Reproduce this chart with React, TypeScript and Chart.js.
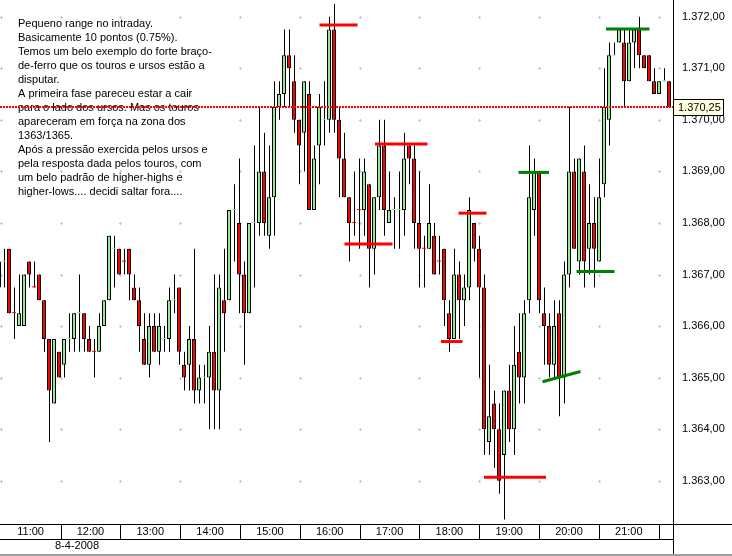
import React, { useEffect, useRef } from "react";
import { Chart, registerables } from "chart.js";

Chart.register(...registerables);

const FONT = "'Liberation Sans', Arial, Helvetica, sans-serif";

// first candle is 10:55 (index -1), then 5-minute candles from 11:00
const firstCandle = -1;

const openPrices = [
  1366.75,
  1367.25, 1367.5, 1366.25, 1366.0, 1366.0, 1367.25, 1366.75, 1367.0, 1366.5, 1365.75, 1364.5, 1365.5,
  1365.25, 1365.75, 1365.75, 1366.25, 1366.25, 1365.75, 1365.5, 1365.5, 1366.0, 1366.5, 1367.5, 1367.5,
  1367.25, 1367.5, 1366.75, 1366.5, 1365.75, 1365.25, 1366.0, 1365.5, 1365.75, 1365.75, 1366.5, 1366.75,
  1365.25, 1365.25, 1365.75, 1364.75, 1365.0, 1365.0, 1365.5, 1364.75, 1366.5, 1366.5, 1368.25, 1368.0,
  1367.0, 1366.25, 1368.0, 1368.0, 1369.0, 1367.75, 1368.5, 1370.25, 1370.5, 1371.25, 1370.75, 1370.0,
  1369.75, 1370.5, 1368.25, 1369.5, 1370.0, 1370.0, 1371.75, 1370.0, 1369.25, 1368.5, 1368.0, 1368.25,
  1368.25, 1368.75, 1367.5, 1368.5, 1369.5, 1368.0, 1368.25, 1368.25, 1368.25, 1369.5, 1369.25, 1368.0,
  1367.5, 1367.5, 1367.75, 1367.25, 1367.5, 1366.25, 1365.75, 1367.0, 1366.5, 1366.75, 1368.0, 1367.5,
  1366.75, 1363.75, 1364.5, 1364.0, 1363.5, 1364.75, 1364.0, 1365.5, 1365.0, 1366.5, 1368.25, 1369.0,
  1366.25, 1366.0, 1365.25, 1366.25, 1365.0, 1367.0, 1369.0, 1367.25, 1369.0, 1367.5, 1368.0, 1367.25,
  1368.75, 1370.0, 1371.25, 1371.5, 1371.5, 1370.75, 1371.5, 1371.75, 1371.25, 1371.25, 1370.75, 1370.5,
  1370.75, 1370.75,
];

const highPrices = [
  1367.5,
  1367.5, 1367.5, 1366.75, 1367.0, 1367.0, 1367.25, 1367.25, 1367.0, 1366.5, 1365.75, 1365.75, 1365.5,
  1365.75, 1366.25, 1366.25, 1367.0, 1366.25, 1366.0, 1365.75, 1366.25, 1366.5, 1367.75, 1367.75, 1367.5,
  1367.5, 1367.5, 1367.0, 1366.75, 1366.25, 1366.25, 1366.25, 1366.25, 1366.0, 1366.75, 1367.0, 1366.75,
  1365.5, 1366.0, 1367.5, 1365.25, 1365.25, 1366.0, 1367.0, 1367.0, 1367.5, 1368.25, 1368.75, 1369.25,
  1367.25, 1368.0, 1369.5, 1370.25, 1369.75, 1369.5, 1370.75, 1370.75, 1371.75, 1371.75, 1371.25, 1370.0,
  1370.75, 1370.75, 1369.5, 1370.5, 1370.75, 1372.0, 1372.25, 1370.25, 1369.75, 1368.5, 1369.0, 1369.25,
  1369.25, 1368.75, 1368.5, 1370.0, 1370.0, 1369.0, 1368.5, 1369.0, 1369.75, 1369.5, 1369.5, 1369.0,
  1367.75, 1368.75, 1368.0, 1367.75, 1367.5, 1366.5, 1367.5, 1367.25, 1367.0, 1368.5, 1368.0, 1367.75,
  1367.0, 1365.25, 1364.75, 1364.5, 1364.75, 1365.25, 1366.0, 1366.25, 1366.5, 1369.5, 1369.25, 1369.0,
  1366.75, 1366.25, 1366.5, 1366.5, 1367.25, 1370.25, 1369.25, 1369.25, 1369.5, 1368.75, 1368.5, 1369.25,
  1371.0, 1371.5, 1371.5, 1371.75, 1371.75, 1371.75, 1371.75, 1372.0, 1371.25, 1371.25, 1371.0, 1370.75,
  1371.0, 1370.75,
];

const lowPrices = [
  1366.5,
  1366.75, 1366.25, 1365.75, 1366.0, 1366.0, 1366.75, 1366.75, 1366.5, 1365.5, 1363.75, 1364.5, 1365.0,
  1365.0, 1365.5, 1365.5, 1365.5, 1365.5, 1365.5, 1365.0, 1365.5, 1366.0, 1366.5, 1366.75, 1367.0,
  1367.0, 1366.5, 1366.5, 1365.5, 1365.25, 1365.0, 1365.5, 1365.25, 1365.5, 1365.5, 1366.25, 1365.25,
  1364.75, 1364.75, 1364.5, 1364.5, 1364.5, 1364.0, 1364.0, 1364.0, 1365.5, 1366.5, 1367.25, 1366.25,
  1365.25, 1366.25, 1366.75, 1367.75, 1367.75, 1367.5, 1367.75, 1370.0, 1370.25, 1370.25, 1369.75, 1368.75,
  1369.0, 1368.25, 1368.25, 1368.75, 1369.5, 1369.75, 1369.75, 1368.5, 1368.5, 1367.25, 1367.75, 1367.5,
  1367.75, 1366.75, 1367.0, 1368.25, 1367.75, 1368.0, 1367.5, 1367.5, 1367.75, 1368.75, 1367.5, 1366.75,
  1366.75, 1367.5, 1367.0, 1367.0, 1366.0, 1365.5, 1365.75, 1365.75, 1366.0, 1366.5, 1367.25, 1365.0,
  1363.5, 1363.5, 1363.25, 1362.75, 1362.25, 1363.75, 1363.5, 1364.5, 1364.5, 1366.25, 1367.75, 1366.25,
  1365.25, 1365.0, 1365.0, 1364.25, 1364.5, 1366.75, 1367.5, 1367.0, 1366.75, 1367.0, 1366.75, 1367.25,
  1368.5, 1369.5, 1371.25, 1371.5, 1370.25, 1370.75, 1371.0, 1371.0, 1371.0, 1370.75, 1370.5, 1370.5,
  1370.75, 1370.25,
];

const closePrices = [
  1367.25,
  1367.25, 1366.25, 1366.25, 1366.25, 1367.0, 1367.0, 1366.75, 1366.5, 1365.75, 1364.75, 1365.75, 1365.0,
  1365.75, 1365.75, 1366.25, 1366.25, 1365.75, 1365.5, 1365.5, 1366.0, 1366.5, 1367.75, 1367.5, 1367.0,
  1367.25, 1367.0, 1366.5, 1366.0, 1365.25, 1366.0, 1365.5, 1366.0, 1365.75, 1366.5, 1366.5, 1365.5,
  1365.0, 1365.75, 1364.75, 1365.0, 1365.0, 1365.5, 1364.75, 1366.75, 1366.25, 1368.25, 1368.25, 1367.0,
  1366.25, 1368.0, 1368.0, 1369.0, 1368.0, 1368.5, 1370.25, 1370.5, 1371.25, 1371.0, 1370.0, 1369.5,
  1370.75, 1368.25, 1369.25, 1370.25, 1370.0, 1371.75, 1370.0, 1369.25, 1368.5, 1368.0, 1368.0, 1368.25,
  1369.0, 1367.5, 1368.5, 1369.5, 1368.25, 1368.25, 1368.25, 1368.25, 1369.25, 1369.25, 1368.0, 1367.5,
  1367.5, 1368.0, 1367.0, 1367.25, 1366.5, 1365.75, 1367.0, 1366.5, 1366.75, 1368.25, 1367.5, 1366.75,
  1364.0, 1364.25, 1364.0, 1363.0, 1364.75, 1364.0, 1365.25, 1365.0, 1366.25, 1368.5, 1369.0, 1366.5,
  1366.0, 1365.25, 1366.0, 1365.0, 1367.0, 1369.0, 1367.5, 1369.25, 1367.25, 1368.0, 1367.5, 1368.5,
  1370.25, 1371.25, 1371.25, 1371.75, 1370.75, 1371.5, 1371.75, 1371.25, 1371.0, 1370.75, 1370.5, 1370.75,
  1370.75, 1370.25,
];

const hourLabels = ["11:00", "12:00", "13:00", "14:00", "15:00", "16:00", "17:00", "18:00", "19:00", "20:00", "21:00"];
const dateLabel = "8-4-2008";
const priceTicks = [1363, 1364, 1365, 1366, 1367, 1368, 1369, 1370, 1371, 1372];
const lastPrice = 1370.25;

const noteLines = [
  "Pequeno range no intraday.",
  "Basicamente 10 pontos (0.75%).",
  "Temos um belo exemplo do forte braço-",
  "de-ferro que os touros e ursos estão a",
  "disputar.",
  "A primeira fase pareceu estar a cair",
  "para o lado dos ursos. Mas os touros",
  "apareceram em força na zona dos",
  "1363/1365.",
  "Após a pressão exercida pelos ursos e",
  "pela resposta dada pelos touros, com",
  "um belo padrão de higher-highs e",
  "higher-lows.... decidi saltar fora....",
];

// [fromCandle, toCandle, fromPrice, toPrice]
const redMarks: number[][] = [
  [63.1, 70.7, 1371.84, 1371.84],
  [74.2, 84.7, 1369.53, 1369.53],
  [68.1, 77.7, 1367.59, 1367.59],
  [90.9, 96.5, 1368.19, 1368.19],
  [87.4, 91.7, 1365.7, 1365.7],
  [96.0, 108.4, 1363.07, 1363.07],
];
const greenMarks: number[][] = [
  [102.9, 109.0, 1368.98, 1368.98],
  [120.4, 129.1, 1371.76, 1371.76],
  [114.5, 122.1, 1367.06, 1367.06],
  [107.7, 115.3, 1364.92, 1365.12],
];

const UP = "#90ee90";
const DOWN = "#ff0000";

function fmtPrice(v: number): string {
  const [i, d] = v.toFixed(2).split(".");
  return i.replace(/\B(?=(\d{3})+(?!\d))/g, ".") + "," + d;
}

const candleColors: string[] = [];
closePrices.forEach((c, i) => {
  const o = openPrices[i];
  if (c > o) candleColors.push(UP);
  else if (c < o) candleColors.push(DOWN);
  else candleColors.push(i > 0 ? candleColors[i - 1] : UP);
});

const X_MIN = -0.8;
const X_MAX = 133.8;
const hourBoundary = (i: number) => -0.66 + 11.964 * i;

const decorPlugin = {
  id: "decor",
  beforeDatasetsDraw(chart: any) {
    const { ctx, chartArea } = chart;
    const x = chart.scales.x;
    const y = chart.scales.y;
    ctx.save();
    ctx.fillStyle = "#c8c8c8";
    for (let i = 0; i <= hourLabels.length; i++) {
      const px = Math.round(x.getPixelForValue(hourBoundary(i)));
      for (const t of priceTicks) {
        const py = Math.round(y.getPixelForValue(t));
        ctx.fillRect(px - 1, py, 3, 1);
        ctx.fillRect(px, py - 1, 1, 3);
      }
    }
    ctx.fillStyle = "#000";
    ctx.font = `11px ${FONT}`;
    ctx.textBaseline = "middle";
    ctx.textAlign = "left";
    noteLines.forEach((line, i) => {
      ctx.fillText(line, chartArea.left + 18, chartArea.top + 24 + i * 14);
    });
    ctx.restore();
  },
  afterDraw(chart: any) {
    const { ctx, chartArea, width, height } = chart;
    const x = chart.scales.x;
    const y = chart.scales.y;
    const axisX = Math.round(chartArea.right);
    const top = Math.round(chartArea.bottom);
    ctx.save();
    ctx.fillStyle = "#000";
    // time row
    ctx.fillRect(0, top, width, 1);
    ctx.fillRect(0, top + 15, axisX, 1);
    ctx.fillRect(axisX, 0, 1, height);
    for (let i = 1; i <= hourLabels.length; i++) {
      const px = Math.round(x.getPixelForValue(hourBoundary(i)));
      ctx.fillRect(px, top, 1, 15);
    }
    ctx.font = `11px ${FONT}`;
    ctx.textBaseline = "middle";
    ctx.textAlign = "center";
    hourLabels.forEach((lab, i) => {
      const a = x.getPixelForValue(hourBoundary(i));
      const b = x.getPixelForValue(hourBoundary(i + 1));
      ctx.fillText(lab, (a + b) / 2, top + 8);
    });
    ctx.textAlign = "left";
    ctx.fillText(dateLabel, 55, top + 22);
    ctx.fillStyle = "#a0a0a0";
    ctx.fillRect(0, height - 2, width, 2);
    // last price box
    const py = y.getPixelForValue(lastPrice);
    ctx.fillStyle = "#ffffe1";
    ctx.fillRect(axisX + 0.5, Math.round(py) - 7.5, 50, 16);
    ctx.strokeStyle = "#000";
    ctx.lineWidth = 1;
    ctx.strokeRect(axisX + 0.5, Math.round(py) - 7.5, 50, 16);
    ctx.fillStyle = "#000";
    ctx.fillText(fmtPrice(lastPrice), axisX + 5, Math.round(py) + 0.5);
    ctx.restore();
  },
};

export default function App() {
  const ref = useRef<HTMLCanvasElement | null>(null);
  useEffect(() => {
    if (!ref.current) return;
    const idx = closePrices.map((_, i) => i + firstCandle);
    const wicks = idx.map((k, i) => ({ x: k, y: [lowPrices[i], highPrices[i]] }));
    const bodies = idx.map((k, i) => ({ x: k, y: [openPrices[i], closePrices[i]] }));
    const isDoji = (i: number) => openPrices[i] === closePrices[i];
    const markSets = [
      ...redMarks.map((m) => ({ m, color: "#ff0000" })),
      ...greenMarks.map((m) => ({ m, color: "#008000" })),
    ].map(({ m, color }) => ({
      type: "line" as const,
      data: [
        { x: m[0], y: m[2] },
        { x: m[1], y: m[3] },
      ],
      borderColor: color,
      borderWidth: 3,
      pointRadius: 0,
      tension: 0,
      order: 0,
    }));
    const chart = new Chart(ref.current, {
      type: "bar",
      data: {
        datasets: [
          {
            type: "line",
            data: [
              { x: X_MIN, y: lastPrice },
              { x: X_MAX, y: lastPrice },
            ],
            borderColor: "#ff0000",
            borderWidth: 2,
            borderDash: [2, 1],
            pointRadius: 0,
            order: 0,
          } as any,
          {
            type: "bar",
            xAxisID: "xw",
            data: wicks as any,
            backgroundColor: "#000",
            barThickness: 1,
            grouped: false,
            inflateAmount: 0,
            borderWidth: 0,
            order: 3,
          } as any,
          {
            type: "bar",
            data: bodies as any,
            backgroundColor: candleColors,
            borderColor: (c: any) => (isDoji(c.dataIndex) ? candleColors[c.dataIndex] : "#000"),
            borderWidth: (c: any) => (isDoji(c.dataIndex) ? 0 : 1),
            borderSkipped: false,
            barThickness: 4,
            grouped: false,
            inflateAmount: 0,
            minBarLength: 1,
            order: 2,
          } as any,
          ...(markSets as any),
        ],
      },
      options: {
        animation: false,
        responsive: true,
        maintainAspectRatio: false,
        layout: { padding: { left: 0, right: 0, top: 0, bottom: 32 } },
        plugins: { legend: { display: false }, tooltip: { enabled: false } },
        scales: {
          x: {
            type: "linear",
            min: X_MIN,
            max: X_MAX,
            offset: false,
            display: false,
          },
          // same candles, shifted half a pixel so 1px wicks land on whole pixels
          xw: {
            type: "linear",
            axis: "x",
            min: X_MIN - 0.1,
            max: X_MAX - 0.1,
            offset: false,
            display: false,
          },
          y: {
            type: "linear",
            position: "right",
            min: 1362.161,
            max: 1372.324,
            afterBuildTicks: (s: any) => {
              s.ticks = priceTicks.map((v) => ({ value: v }));
            },
            afterFit: (s: any) => {
              s.width = 59;
              s.paddingTop = 0;
              s.paddingBottom = 0;
            },
            grid: { drawOnChartArea: false, drawTicks: false },
            border: { display: false },
            ticks: {
              callback: (v: any) => fmtPrice(Number(v)),
              color: "#000",
              padding: 9,
              font: { family: FONT, size: 11 },
            },
          },
        } as any,
      },
      plugins: [decorPlugin],
    });
    return () => chart.destroy();
  }, []);
  return (
    <div style={{ position: "absolute", left: 0, top: 0, width: 732, height: 556, background: "#fff" }}>
      <canvas ref={ref} />
    </div>
  );
}
